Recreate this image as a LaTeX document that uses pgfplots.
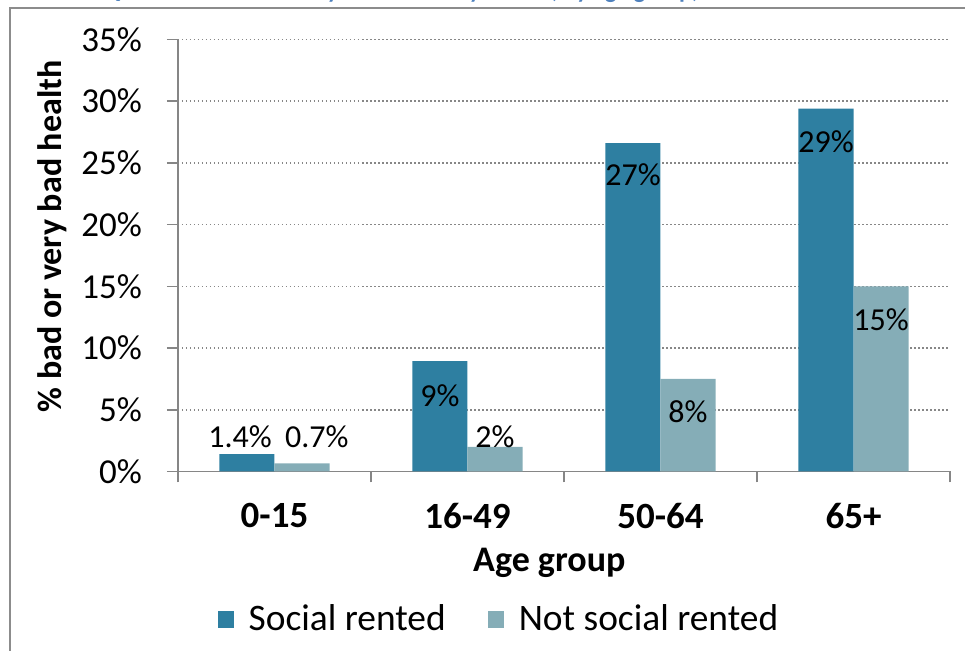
\documentclass[border=0pt]{standalone}
\usepackage{pgfplots}
\pgfplotsset{compat=1.18}
\usepackage{fontspec}
\setmainfont{Carlito}
\definecolor{social}{RGB}{46,127,161}
\definecolor{notsocial}{RGB}{133,173,183}
\definecolor{axgray}{RGB}{134,134,134}
\definecolor{gridgray}{RGB}{135,135,135}
\definecolor{framegray}{RGB}{140,140,140}
\definecolor{titleblue}{RGB}{79,129,189}

\pgfplotstableread{
x y
0 1.4
1 8.95
2 26.6
3 29.4
}\social
\pgfplotstableread{
x y
0 0.65
1 2.0
2 7.5
3 15.0
}\notsocial
\pgfplotstableread{
x ly lab
-0.178 2.80 1.4
0.219 2.80 0.7
0.8575 6.12 9
1.1425 2.80 2
1.8575 24.03 27
2.1425 4.82 8
2.8575 26.70 29
3.1425 12.28 15
}\labels

\begin{document}
\begin{tikzpicture}
\useasboundingbox (0,0) rectangle (482.5pt,325.5pt);
\begin{scope}
\clip (0,322.5pt) rectangle (482.5pt,325.5pt);
\node[anchor=base west, inner sep=0pt, text=titleblue, font=\bfseries\fontsize{12}{14}\selectfont] at (51.5pt,326pt) {Question 4: bad or very bad health by tenure, by age group, 2011};
\end{scope}
\draw[framegray, line width=1pt] (5pt,-2pt) -- (5pt,321.5pt) -- (490pt,321.5pt);
\begin{axis}[
  scale only axis,
  width=386pt, height=216pt,
  at={(89pt,89.75pt)}, anchor=south west,
  xmin=-0.5, xmax=3.5, ymin=0, ymax=35,
  axis x line*=bottom, axis y line*=left,
  axis line style={axgray, line width=0.75pt},
  tick style={axgray, line width=0.75pt},
  tick align=outside, major tick length=5.5pt,
  ytick={0,5,...,35},
  yticklabel={\pgfmathprintnumber{\tick}\%},
  /pgf/number format/assume math mode=true,
  yticklabel style={font=\fontsize{17.5}{20}\selectfont, anchor=east, xshift=-9pt},
  xtick={-0.5,0.5,1.5,2.5,3.5}, xticklabels={},
  extra x ticks={0,1,2,3},
  extra x tick labels={0-15,16-49,50-64,65+},
  extra x tick style={major tick length=0pt, grid=none},
  xticklabel style={font=\bfseries\fontsize{18.5}{21}\selectfont, yshift=-12.5pt},
  ymajorgrids,
  grid style={gridgray, line width=0.75pt, dash pattern=on 0.75pt off 1.25pt},
  xlabel={Age group},
  xlabel style={font=\bfseries\fontsize{18}{21}\selectfont, at={(axis description cs:0.481,-0.2315)}, anchor=base},
  ylabel={\% bad or very bad health},
  ylabel style={font=\bfseries\fontsize{17}{20}\selectfont, at={(axis description cs:-0.163,0.544)}, anchor=center, rotate=0},
  legend style={at={(axis description cs:0.417,-0.3426)}, anchor=center, draw=none, fill=none,
    legend columns=2, font=\fontsize{18.7}{21}\selectfont,
    /tikz/every even column/.append style={column sep=19pt}},
]
\addplot[ybar, bar width=0.285, bar shift=-0.1425, fill=social, draw=none,
  legend image code/.code={\fill[social] (0pt,-4.25pt) rectangle (8pt,4.25pt); \path (13.5pt,0pt);}]
  table[x=x, y=y] {\social};
\addlegendentry{Social rented}
\addplot[ybar, bar width=0.285, bar shift=0.1425, fill=notsocial, draw=none,
  legend image code/.code={\fill[notsocial] (0pt,-4.25pt) rectangle (8pt,4.25pt); \path (13.5pt,0pt);}]
  table[x=x, y=y] {\notsocial};
\addlegendentry{Not social rented}
\addplot[draw=none, mark=none, forget plot,
  nodes near coords={\pgfplotspointmeta\%},
  point meta=explicit symbolic,
  nodes near coords style={anchor=center, inner sep=0pt, font=\fontsize{16}{18}\selectfont, text=black}]
  table[x=x, y=ly, meta=lab] {\labels};
\end{axis}
\end{tikzpicture}
\end{document}
